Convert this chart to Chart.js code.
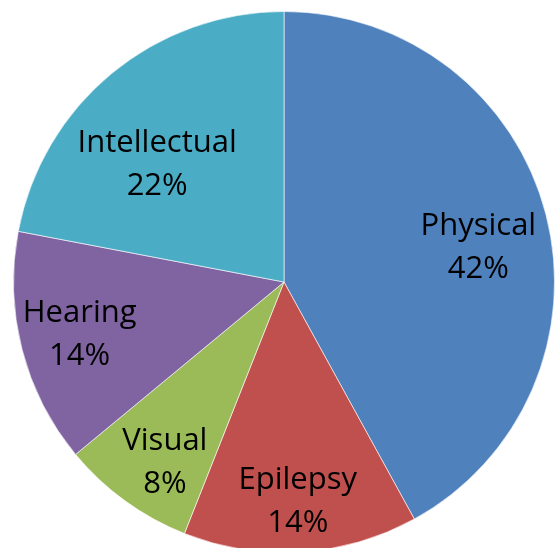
<!DOCTYPE html>
<html>
<head>
<meta charset="utf-8">
<script src="https://cdn.jsdelivr.net/npm/chart.js@4"></script>
<style>
html,body{margin:0;padding:0;background:#fff;overflow:hidden;}
#wrap{width:556px;height:556px;position:relative;}
</style>
</head>
<body>
<div id="wrap"><canvas id="c" width="556" height="556"></canvas></div>
<script>
const categories = ["Physical", "Epilepsy", "Visual", "Hearing", "Intellectual"];
const values = [42, 14, 8, 14, 22];
const percentLabels = ["42%", "14%", "8%", "14%", "22%"];
const colors = ["#4F81BD", "#C0504D", "#9BBB59", "#8064A2", "#4BACC6"];

// label placement: radial fraction and angle tweak (degrees)
const labelFrac = [0.73, 0.81, 0.80, 0.78, 0.64];
const labelDelta = [4.2, 0, -2.6, 0, -7.5];

const labelPlugin = {
  id: 'sliceLabels',
  afterDatasetsDraw(chart) {
    const ctx = chart.ctx;
    const meta = chart.getDatasetMeta(0);
    ctx.save();
    ctx.font = '31px "Open Sans"';
    ctx.fillStyle = '#000';
    ctx.textAlign = 'center';
    ctx.textBaseline = 'middle';
    meta.data.forEach((arc, i) => {
      const p = arc.getProps(['x','y','startAngle','endAngle','outerRadius'], true);
      const mid = (p.startAngle + p.endAngle) / 2 + labelDelta[i] * Math.PI / 180;
      const r = p.outerRadius * labelFrac[i];
      const cx = p.x + Math.cos(mid) * r;
      const cy = p.y + Math.sin(mid) * r;
      ctx.fillText(categories[i], cx, cy - 21);
      ctx.fillText(percentLabels[i], cx, cy + 22);
    });
    ctx.restore();
  }
};

new Chart(document.getElementById('c'), {
  type: 'pie',
  data: {
    labels: categories,
    datasets: [{
      data: values,
      backgroundColor: colors,
      borderColor: 'rgba(255,255,255,0.6)',
      borderWidth: 1,
      hoverOffset: 0
    }]
  },
  options: {
    responsive: false,
    animation: false,
    layout: { padding: { left: 13, right: 1, top: 11, bottom: 3 } },
    plugins: { legend: { display: false }, tooltip: { enabled: false } }
  },
  plugins: [labelPlugin]
});
</script>
</body>
</html>
